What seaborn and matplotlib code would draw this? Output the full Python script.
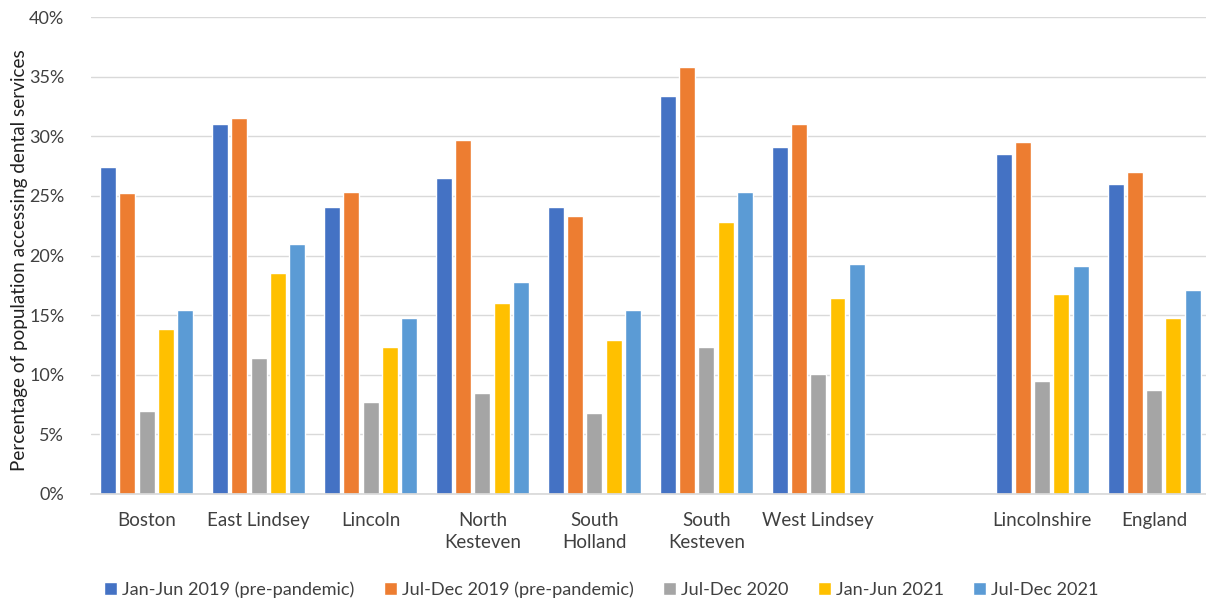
import matplotlib
matplotlib.use("Agg")
import matplotlib.pyplot as plt
import matplotlib.ticker as mticker
import seaborn as sns
import pandas as pd

# Areas shown along the x axis (the blank entry leaves a gap before the totals)
areas = ["Boston", "East Lindsey", "Lincoln", "North\nKesteven", "South\nHolland",
         "South\nKesteven", "West Lindsey", " ", "Lincolnshire", "England"]
periods = ["Jan-Jun 2019 (pre-pandemic)", "Jul-Dec 2019 (pre-pandemic)",
           "Jul-Dec 2020", "Jan-Jun 2021", "Jul-Dec 2021"]

# Share of population accessing dental services (%), per period
jan_jun_2019 = [27.4, 31.0, 24.1, 26.5, 24.1, 33.4, 29.1, None, 28.5, 26.0]
jul_dec_2019 = [25.2, 31.5, 25.3, 29.7, 23.3, 35.8, 31.0, None, 29.5, 27.0]
jul_dec_2020 = [7.0, 11.4, 7.7, 8.5, 6.8, 12.3, 10.1, None, 9.5, 8.7]
jan_jun_2021 = [13.8, 18.5, 12.3, 16.0, 12.9, 22.8, 16.4, None, 16.8, 14.8]
jul_dec_2021 = [15.4, 21.0, 14.8, 17.8, 15.4, 25.3, 19.3, None, 19.1, 17.1]

colors = ["#4472C4", "#ED7D31", "#A5A5A5", "#FFC000", "#5B9BD5"]

series = [jan_jun_2019, jul_dec_2019, jul_dec_2020, jan_jun_2021, jul_dec_2021]
rows = []
for period, values in zip(periods, series):
    for area, v in zip(areas, values):
        if v is not None:
            rows.append({"area": area, "period": period, "value": v / 100})
df = pd.DataFrame(rows)

sns.set_theme(style="white")
plt.rcParams["font.family"] = ["Lato", "DejaVu Sans"]

fig = plt.figure(figsize=(12.06, 6.0), dpi=100)
left_px, right_px, top_px, bottom_px = 90.7, 1206, 17, 494
ax = fig.add_axes([left_px / 1206, (600 - bottom_px) / 600,
                   (right_px - left_px) / 1206, (bottom_px - top_px) / 600])

sns.barplot(data=df, x="area", y="value", hue="period", order=areas,
            hue_order=periods, palette=colors, width=0.86, gap=0.17,
            saturation=1, ax=ax, legend=True)

slot_px = (1210 - left_px) / 10
ax.set_xlim(-0.5, -0.5 + (right_px - left_px) / slot_px)
ax.set_ylim(0, 0.40)
ax.yaxis.set_major_locator(mticker.MultipleLocator(0.05))
ax.yaxis.set_major_formatter(mticker.PercentFormatter(1.0, decimals=0))
ax.grid(axis="y", color="#d9d9d9", linewidth=1.0)
ax.set_axisbelow(True)
for s in ["top", "right", "left"]:
    ax.spines[s].set_visible(False)
ax.spines["bottom"].set_color("#d9d9d9")
ax.tick_params(axis="y", length=0, labelsize=13, colors="#404040", pad=19)
ax.tick_params(axis="x", length=0, labelsize=13.5, colors="#404040", pad=13)
for lbl in ax.get_xticklabels():
    lbl.set_linespacing(1.35)
ax.set_xlabel("")
ax.set_ylabel("Percentage of population accessing dental services",
              fontsize=13.6, color="#202020", labelpad=4)
ax.yaxis.set_label_coords(-0.056, 0.49)

handles, labels = ax.get_legend_handles_labels()
ax.legend(handles, labels, loc="center", bbox_to_anchor=(0.458, -0.20),
          ncol=5, frameon=False, fontsize=13.1, handlelength=0.7,
          handleheight=0.7, handletextpad=0.3, columnspacing=1.6,
          labelcolor="#404040")

fig.savefig("out.png", dpi=100)
